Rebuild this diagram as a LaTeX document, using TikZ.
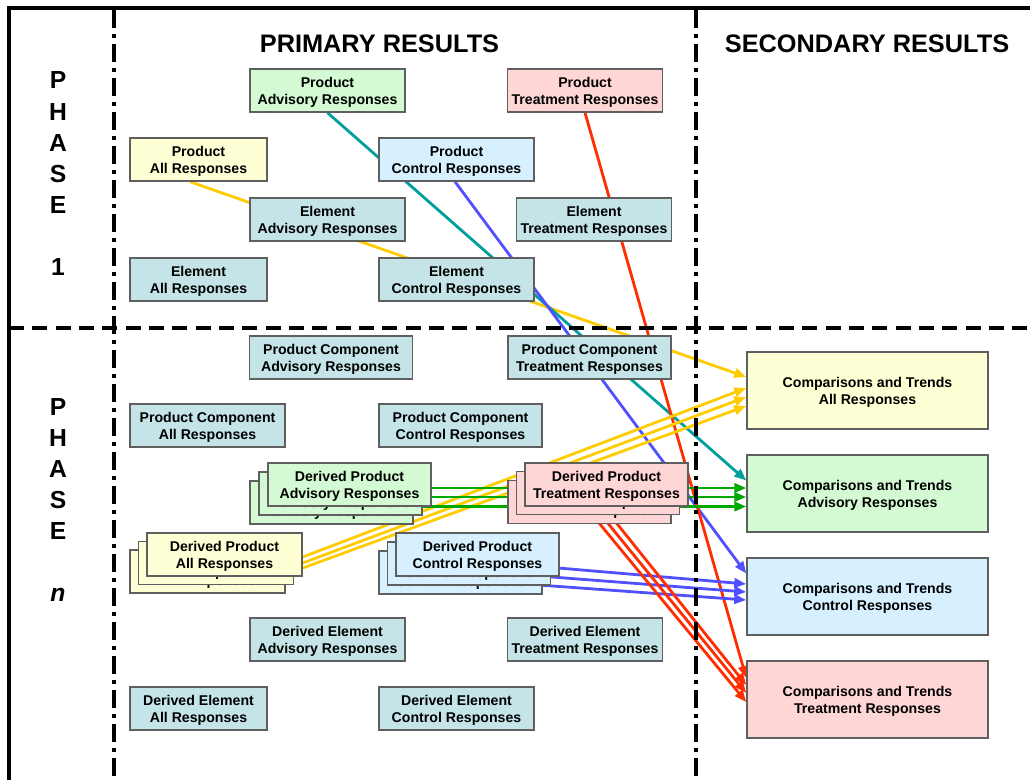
\documentclass[tikz,border=0pt]{standalone}
\usepackage{fontspec}
\setmainfont{Liberation Sans}
\usetikzlibrary{arrows.meta,calc}
\pgfdeclarelayer{bg}\pgfdeclarelayer{mid}\pgfsetlayers{bg,mid,main}
\definecolor{bcol}{RGB}{95,95,95}
\definecolor{fgreen}{RGB}{212,250,212}
\definecolor{fpink}{RGB}{255,214,214}
\definecolor{fyellow}{RGB}{255,255,214}
\definecolor{fblue}{RGB}{214,240,255}
\definecolor{felem}{RGB}{196,228,232}
\definecolor{lyellow}{RGB}{255,204,0}
\definecolor{lteal}{RGB}{0,158,158}
\definecolor{lblue}{RGB}{80,80,255}
\definecolor{lred}{RGB}{255,45,0}
\definecolor{lgreen}{RGB}{0,168,0}
\tikzset{
  box/.style={draw=bcol, line width=1.1pt, inner sep=0pt, minimum height=32.25pt,
    text depth=0pt, execute at begin node={\rule{0pt}{11pt}},
    align=center, font=\bfseries\fontsize{10.6}{12.8}\selectfont},
  wA/.style={minimum width=102.75pt},
  wB/.style={minimum width=116.25pt},
  wC/.style={minimum width=122.25pt},
  cbox/.style={box, minimum width=180.75pt, minimum height=57.75pt},
  phase/.style={font=\bfseries\fontsize{18.5}{20}\selectfont, anchor=base, inner sep=0pt},
  head/.style={font=\bfseries\fontsize{19}{22}\selectfont, anchor=base, inner sep=0pt},
  conn/.style={line width=2.1pt, -{Triangle[length=9pt,width=7pt]}},
  frameline/.style={line width=3pt, black},
  hdash/.style={line width=3pt, black, dash pattern=on 11.25pt off 6.25pt},
  vdd/.style={line width=3pt, black, dash pattern=on 13.5pt off 4.5pt on 3pt off 4.5pt},
}
\begin{document}
\begin{tikzpicture}[x=0.75pt,y=-0.75pt]
\useasboundingbox (0,0) rectangle (1030,780);
\begin{pgfonlayer}{bg}
\fill[white] (0,0) rectangle (1030,780);
\end{pgfonlayer}

% headings
\node[head] (hprim) at (379.5,53) {PRIMARY RESULTS};
\node[head] (hsec) at (867,53) {SECONDARY RESULTS};

% phase labels
\node[phase] (pa1) at (58,89) {P};
\node[phase] (pa2) at (58,120.2) {H};
\node[phase] (pa3) at (58,151.4) {A};
\node[phase] (pa4) at (58,182.6) {S};
\node[phase] (pa5) at (58,213.8) {E};
\node[phase] (pa6) at (58,276) {1};
\node[phase] (pb1) at (58,415) {P};
\node[phase] (pb2) at (58,446.2) {H};
\node[phase] (pb3) at (58,477.4) {A};
\node[phase] (pb4) at (58,508.6) {S};
\node[phase] (pb5) at (58,539.8) {E};
\node[phase] (pb6) at (58,601) {\itshape n};

% Phase 1 boxes
\node[box,wB,fill=fgreen] (padv) at (327.5,90.5) {Product\\Advisory Responses};
\node[box,wB,fill=fpink] (ptrt) at (585,90.5) {Product\\Treatment Responses};
\node[box,wA,fill=fyellow] (pall) at (198.5,159.5) {Product\\All Responses};
\node[box,wB,fill=fblue] (pctl) at (456.5,159.5) {Product\\Control Responses};
\node[box,wB,fill=felem] (eadv) at (327.5,219.5) {Element\\Advisory Responses};
\node[box,wB,fill=felem] (etrt) at (594,219.5) {Element\\Treatment Responses};
\node[box,wA,fill=felem] (eall) at (198.5,279.5) {Element\\All Responses};
\node[box,wB,fill=felem] (ectl) at (456.5,279.5) {Element\\Control Responses};

% Phase n boxes
\node[box,wC,fill=felem] (pcadv) at (331,357.5) {Product Component\\Advisory Responses};
\node[box,wC,fill=felem] (pctrt) at (589.5,357.5) {Product Component\\Treatment Responses};
\node[box,wB,fill=felem] (pcall) at (207.5,425.5) {Product Component\\All Responses};
\node[box,wC,fill=felem] (pcctl) at (460.5,425.5) {Product Component\\Control Responses};

% stacks
\node[box,wC,fill=fgreen] (dadvc) at (331.5,502.5) {Derived Product\\Advisory Responses};
\node[box,wC,fill=fgreen] (dadvb) at (340.5,493.5) {Derived Product\\Advisory Responses};
\node[box,wC,fill=fgreen] (dadv) at (349.5,484.5) {Derived Product\\Advisory Responses};

\node[box,wC,fill=fpink] (dtrtc) at (589.5,502) {Derived Product\\Treatment Responses};
\node[box,wC,fill=fpink] (dtrtb) at (598,493.2) {Derived Product\\Treatment Responses};
\node[box,wC,fill=fpink] (dtrt) at (606.5,484.5) {Derived Product\\Treatment Responses};

\node[box,wB,fill=fyellow] (dallc) at (207.5,571.5) {Derived Product\\All Responses};
\node[box,wB,fill=fyellow] (dallb) at (216,563) {Derived Product\\All Responses};
\node[box,wB,fill=fyellow] (dall) at (224.5,554.5) {Derived Product\\All Responses};

\node[box,wC,fill=fblue] (dctlc) at (460.5,572.5) {Derived Product\\Control Responses};
\node[box,wC,fill=fblue] (dctlb) at (469,563.5) {Derived Product\\Control Responses};
\node[box,wC,fill=fblue] (dctl) at (477.5,554.5) {Derived Product\\Control Responses};

\node[box,wB,fill=felem] (deadv) at (327.5,639.5) {Derived Element\\Advisory Responses};
\node[box,wB,fill=felem] (detrt) at (585,639.5) {Derived Element\\Treatment Responses};
\node[box,wA,fill=felem] (deall) at (198.5,708.5) {Derived Element\\All Responses};
\node[box,wB,fill=felem] (dectl) at (456.5,708.5) {Derived Element\\Control Responses};

% secondary
\node[cbox,fill=fyellow] (call) at (867.5,390.5) {Comparisons and Trends\\All Responses};
\node[cbox,fill=fgreen] (cadv) at (867.5,493.5) {Comparisons and Trends\\Advisory Responses};
\node[cbox,fill=fblue] (cctl) at (867.5,596.5) {Comparisons and Trends\\Control Responses};
\node[cbox,fill=fpink] (ctrt) at (867.5,699.5) {Comparisons and Trends\\Treatment Responses};

% frame
\begin{pgfonlayer}{mid}
\draw[frameline] (9,781) -- (9,8) -- (1031,8);
\draw[hdash] (9,327.5) -- (1031,327.5);
\draw[vdd] (113.5,10) -- (113.5,781);
\draw[vdd] (696,10) -- (696,781);
\end{pgfonlayer}

% connectors
\begin{pgfonlayer}{bg}
\draw[conn,lyellow] ($(pall.south)+(-8.5,0)$) -- ($(call.west)+(0,-13.5)$);
\draw[conn,lteal] (padv.south) -- ($(cadv.west)+(0,-13)$);
\draw[conn,lblue] ($(pctl.south)+(-1.5,0)$) -- ($(cctl.west)+(0,-23)$);
\draw[conn,lred] (ptrt.south) -- ($(ctrt.west)+(0,-21.5)$);

\draw[conn,lyellow] ($(dall.east)+(0,2.5)$) -- ($(call.west)+(0,-2.5)$);
\draw[conn,lyellow] ($(dall.east)+(0,8.5)$) -- ($(call.west)+(0,6.5)$);
\draw[conn,lyellow] ($(dall.east)+(0,13.5)$) -- ($(call.west)+(0,15.5)$);

\draw[conn,lgreen] ($(dadv.east)+(-12,3.5)$) -- ($(cadv.west)+(0,-5.5)$);
\draw[conn,lgreen] ($(dadv.east)+(-12,12.5)$) -- ($(cadv.west)+(0,3.5)$);
\draw[conn,lgreen] ($(dadv.east)+(-12,22)$) -- ($(cadv.west)+(0,13)$);

\draw[conn,lblue] ($(dctl.east)+(-19,12)$) -- ($(cctl.west)+(0,-12.5)$);
\draw[conn,lblue] ($(dctl.east)+(-27,21)$) -- ($(cctl.west)+(0,-4.5)$);
\draw[conn,lblue] ($(dctl.east)+(-35,29.5)$) -- ($(cctl.west)+(0,3.5)$);

\draw[conn,lred] ($(dtrt.center)+(-8.5,15.5)$) -- ($(ctrt.west)+(0,-14.5)$);
\draw[conn,lred] ($(dtrt.center)+(-13.5,20.5)$) -- ($(ctrt.west)+(0,-6.5)$);
\draw[conn,lred] ($(dtrt.center)+(-16.5,27.5)$) -- ($(ctrt.west)+(0,2.5)$);
\end{pgfonlayer}
\end{tikzpicture}
\end{document}
